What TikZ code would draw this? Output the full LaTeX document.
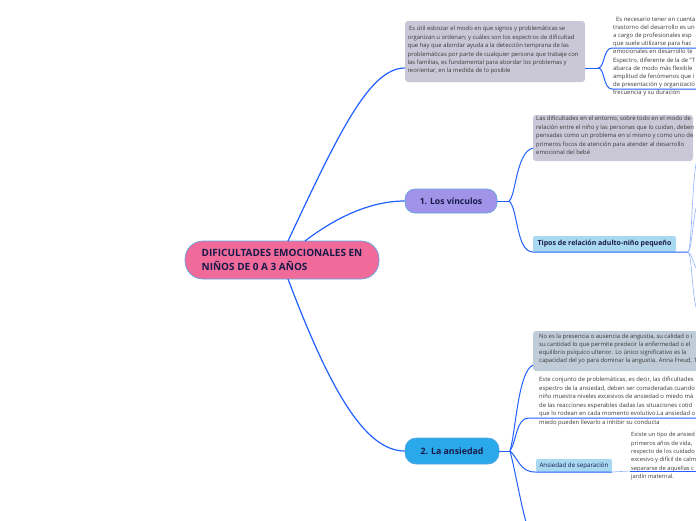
\documentclass[tikz,border=0pt]{standalone}
\usepackage{fontspec}
\setmainfont{Open Sans}
\definecolor{conblue}{HTML}{2160FF}
\definecolor{lightcon}{HTML}{90B2FF}
\definecolor{rootfill}{HTML}{F06B9A}
\definecolor{nodeborder}{HTML}{5DA5E0}
\definecolor{vincfill}{HTML}{A093E8}
\definecolor{ansfill}{HTML}{29A8EA}
\definecolor{subfill}{HTML}{A8D9F1}
\definecolor{grayfill}{HTML}{CAC8D6}
\definecolor{bluegrayfill}{HTML}{C0CCD8}
\definecolor{titletext}{HTML}{1A1A4A}
\definecolor{bodytext}{HTML}{3A3A3A}
\begin{document}
\begin{tikzpicture}[x=1pt,y=-1pt,
  con/.style={draw=conblue, line width=1pt},
  rootcon/.style={draw=conblue, line width=1.2pt},
  conlight/.style={draw=lightcon, line width=0.6pt},
  rootnode/.style={fill=rootfill, draw=nodeborder, line width=0.7pt, rounded corners=18pt,
    minimum width=194pt, minimum height=38pt, align=left, text=titletext,
    font=\fontsize{10}{14}\selectfont\bfseries},
  mainnode/.style={draw=nodeborder, line width=0.6pt, text=titletext,
    font=\fontsize{8.6}{9}\selectfont\bfseries},
  subnode/.style={fill=subfill, rounded corners=2pt, text=titletext},
  textbox/.style={rounded corners=3pt, inner sep=0pt},
  body/.style={font=\fontsize{5.9}{8.45}\selectfont, text=bodytext, inner sep=0pt,
    anchor=north west, align=left}
]
\useasboundingbox (0,0) rectangle (696,520);
\clip (0,0) rectangle (696,520);

% root
\node[rootnode] (root) at (282,260) {DIFICULTADES EMOCIONALES EN\\NIÑOS DE 0 A 3 AÑOS};
\coordinate (rootTopA) at (288,241);
\coordinate (rootTopB) at (305,241);
\coordinate (rootBot) at (288,279);

% top text box
\node[textbox, fill=grayfill, minimum width=180pt, minimum height=61pt] (t1box) at (495,51.5) {};
\node[body] (t1) at (407.5,26) {\hspace*{1.5pt}Es útil esbozar el modo en que signos y problemáticas se\\
organizan u ordenan; y cuáles son los espectros de dificultad\\
que hay que abordar ayuda a la detección temprana de las\\
problemáticas por parte de cualquier persona que trabaje con\\
las familias, es fundamental para abordar los problemas y\\
reorientar, en la medida de lo posible};
\coordinate (t1in) at (405,68);
\coordinate (t1out) at (585,68);
\coordinate (t1j) at (598,68);

% top right text
\node[body, font=\fontsize{5.9}{8.2}\selectfont] (t2) at (613,16.5) {\hspace*{3pt}Es necesario tener en cuenta\\
trastorno del desarrollo es un\\
a cargo de profesionales esp\\
que suele utilizarse para hac\\
emocionales en desarrollo te\\
Espectro, diferente de la de "T\\
abarca de modo más flexible\\
amplitud de fenómenos que i\\
de presentación y organizació\\
frecuencia y su duración};
\coordinate (u1a) at (612,48);
\coordinate (u1b) at (697,48);
\coordinate (u2a) at (612,89);
\coordinate (u2b) at (697,89);

% 1. Los vinculos
\node[mainnode, fill=vincfill, rounded corners=10pt, minimum width=92pt, minimum height=24pt] (vinc) at (451,201) {1. Los vínculos};
\coordinate (vincj) at (509,201);
\node[textbox, fill=grayfill, minimum width=160pt, minimum height=46pt] (vbox) at (613,138) {};
\node[body] (vtext) at (536,116) {Las dificultades en el entorno, sobre todo en el modo de\\
relación entre el niño y las personas que lo cuidan, deben\\
pensadas como un problema en sí mismo y como uno de\\
primeros focos de atención para atender al desarrollo\\
emocional del bebé};
\coordinate (vboxin) at (533,148);

\node[subnode, minimum width=143pt, minimum height=16pt, font=\fontsize{7}{8}\selectfont\bfseries] (tipos) at (604.5,244) {Tipos de relación adulto-niño pequeño};
\coordinate (tiposin) at (533,252);
\coordinate (tiposj) at (688,252);
\coordinate (e1) at (697,160);
\coordinate (e2) at (697,205);
\coordinate (e3) at (697,270);
\coordinate (e4) at (697,310);

% 2. La ansiedad
\node[mainnode, fill=ansfill, rounded corners=11pt, minimum width=94pt, minimum height=26pt, font=\fontsize{8.8}{9}\selectfont\bfseries] (ans) at (452,451) {2. La ansiedad};
\coordinate (ansj) at (510,451);

\node[textbox, fill=bluegrayfill, minimum width=170pt, minimum height=40pt] (abox) at (618,351) {};
\node[body, font=\fontsize{5.9}{7.7}\selectfont] (atext) at (539,334.3) {No es la presencia o ausencia de angustia, su calidad o i\\
su cantidad lo que permite predecir la enfermedad o el\\
equilibrio psíquico ulterior. Lo único significativo es la\\
capacidad del yo para dominar la angustia. Anna Freud, 1};
\coordinate (aboxin) at (533,365);

\node[body] (a2text) at (539,377.2) {Este conjunto de problemáticas, es decir, las dificultades\\
espectro de la ansiedad, deben ser consideradas cuando\\
niño muestra niveles excesivos de ansiedad o miedo má\\
de las reacciones esperables dadas las situaciones cotid\\
que lo rodean en cada momento evolutivo.La ansiedad o\\
miedo pueden llevarlo a inhibir su conducta};
\coordinate (a2in) at (529,418);
\coordinate (a2end) at (697,418);

\node[subnode, minimum width=76pt, minimum height=13pt, font=\fontsize{6.2}{7}\selectfont] (sep) at (574,465.5) {Ansiedad de separación};
\coordinate (sepin) at (535,472);
\coordinate (sepout) at (612,472);
\node[body, font=\fontsize{5.75}{8.3}\selectfont] (septext) at (631,432.3) {Existe un tipo de ansied\\
primeros años de vida, \\
respecto de los cuidado\\
excesivo y difícil de calm\\
separarse de aquellas c\\
jardín maternal.};
\coordinate (septin) at (630,471);
\coordinate (septend) at (697,471);
\coordinate (ansdown) at (526,522);

% connectors from root
\draw[rootcon] (rootTopA) .. controls (340,130) and (370,68) .. (t1in);
\draw[rootcon] (rootTopB) .. controls (335,218) and (370,201) .. (vinc.west);
\draw[rootcon] (rootBot) .. controls (330,390) and (365,451) .. (ans.west);

% top box branches
\draw[con] (t1out) -- (t1j);
\draw[con] (t1j) .. controls (605,68) and (603,48) .. (u1a) -- (u1b);
\draw[con] (t1j) .. controls (605,68) and (603,89) .. (u2a) -- (u2b);

% vinculos branches
\draw[con] (vinc.east) -- (vincj);
\draw[con] (vincj) .. controls (516,196) and (516,152) .. (vboxin);
\draw[con] (vincj) .. controls (518,208) and (516,252) .. (tiposin) -- (tiposj);
\draw[conlight] (tiposj) .. controls (692,250) and (692,175) .. (e1);
\draw[conlight] (tiposj) .. controls (692,250) and (693,215) .. (e2);
\draw[conlight] (tiposj) .. controls (692,254) and (693,263) .. (e3);
\draw[conlight] (tiposj) .. controls (692,254) and (692,298) .. (e4);

% ansiedad branches
\draw[con] (ans.east) -- (ansj);
\draw[con] (ansj) .. controls (516,430) and (518,372) .. (aboxin);
\draw[con] (ansj) .. controls (517,440) and (516,418) .. (a2in) -- (a2end);
\draw[con] (ansj) .. controls (518,458) and (520,472) .. (sepin) -- (sepout);
\draw[conlight] (sepout) -- (septin);
\draw[con] (septin) -- (septend);
\draw[con] (ansj) .. controls (515,470) and (520,500) .. (ansdown);
\end{tikzpicture}
\end{document}
